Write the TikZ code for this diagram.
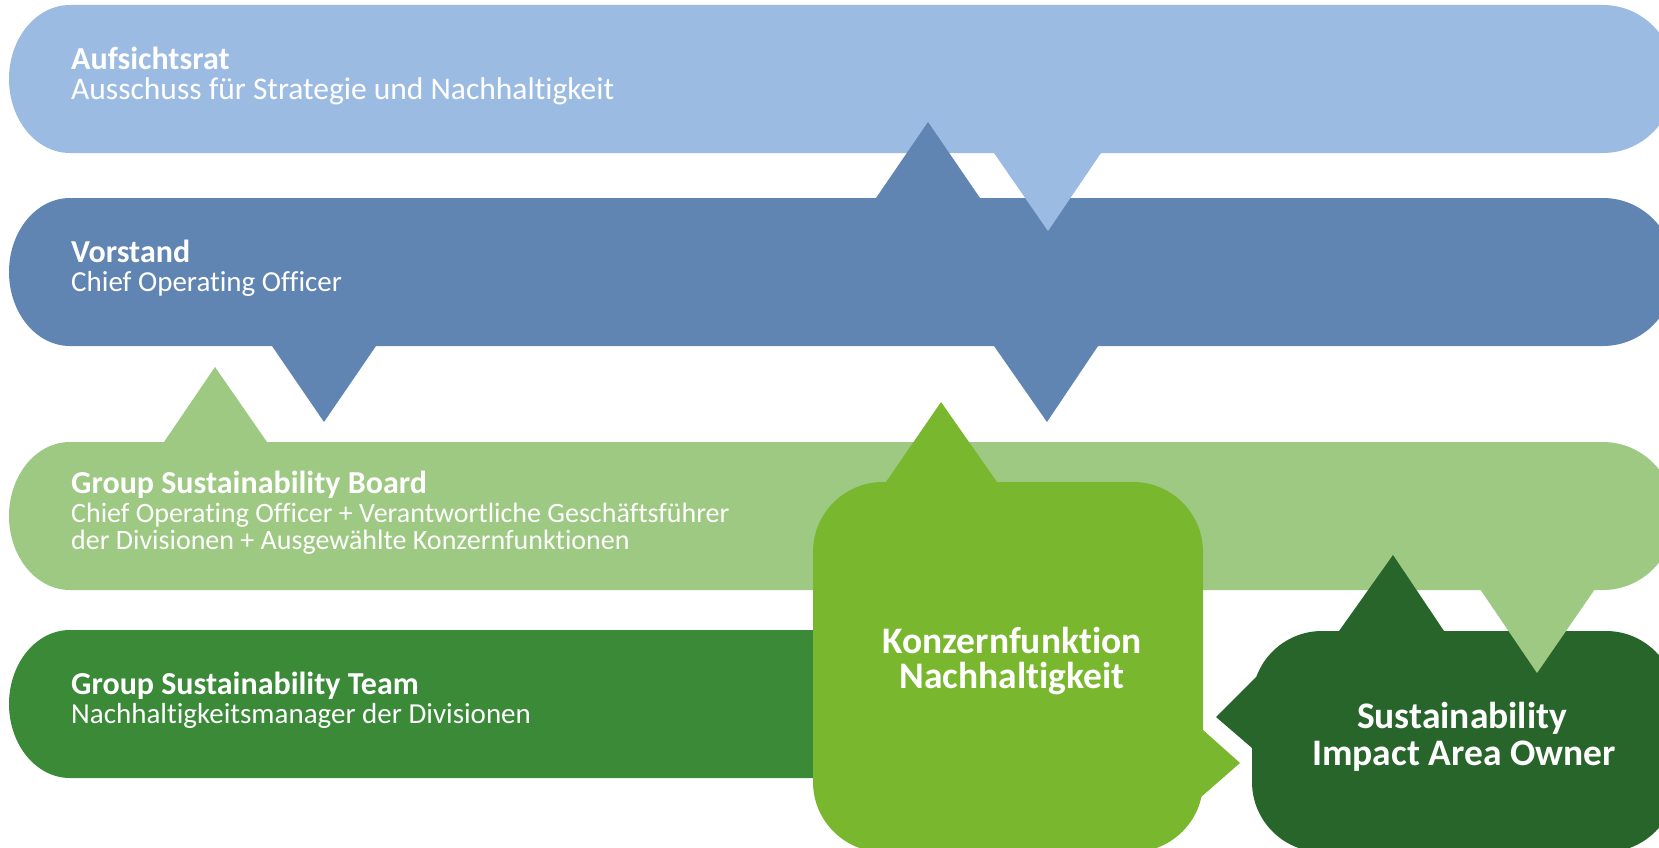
\documentclass[tikz,border=0pt]{standalone}
\usepackage{fontspec}
\setmainfont[Ligatures=NoCommon]{Carlito}
\definecolor{cAufsicht}{HTML}{9BBBE3}
\definecolor{cVorstand}{HTML}{6085B2}
\definecolor{cBoard}{HTML}{9DC983}
\definecolor{cTeam}{HTML}{3A8A38}
\definecolor{cKonz}{HTML}{79B72E}
\definecolor{cOwner}{HTML}{28652A}
\tikzset{
  bandtitle/.style={anchor=base west, inner sep=0pt, text=white, font=\fontsize{32}{32}\selectfont\bfseries},
  bandsub/.style={anchor=base west, inner sep=0pt, text=white, font=\fontsize{#1}{30}\selectfont},
  bandsub/.default=28,
  boxtitle/.style={anchor=base, inner sep=0pt, text=white, font=\fontsize{37.5}{38}\selectfont\bfseries},
}
\begin{document}
\begin{tikzpicture}[x=1pt,y=-1pt]
\useasboundingbox (0,0) rectangle (1659,848);
\clip (0,0) rectangle (1659,848);
% band bodies
\fill[cAufsicht] (70,5) -- (1603,5) arc[start angle=-90,end angle=90,x radius=72,y radius=74] -- (70,153) arc[start angle=90,end angle=270,x radius=61,y radius=74] -- cycle;
\fill[cVorstand] (70,198) -- (1603,198) arc[start angle=-90,end angle=90,x radius=72,y radius=74] -- (70,346) arc[start angle=90,end angle=270,x radius=61,y radius=74] -- cycle;
\fill[cBoard] (70,442) -- (1603,442) arc[start angle=-90,end angle=90,x radius=72,y radius=74] -- (70,590) arc[start angle=90,end angle=270,x radius=61,y radius=74] -- cycle;
\fill[cTeam] (70,630) -- (900,630) -- (900,778) -- (70,778) arc[start angle=90,end angle=270,x radius=61,y radius=74] -- cycle;
% boxes
\fill[cKonz, rounded corners=70pt] (813,482) rectangle (1203,852);
\fill[cOwner, rounded corners=70pt] (1252,631) rectangle (1676,852);
% tails
\fill[cAufsicht] (994,145) -- (1101,145) -- (1101,153) -- (1048,231) -- (994,153) -- cycle;
\fill[cVorstand] (876,206) -- (876,198) -- (928,122) -- (980,198) -- (980,206) -- cycle;
\fill[cVorstand] (272,338) -- (376,338) -- (376,346) -- (324,422) -- (272,346) -- cycle;
\fill[cVorstand] (994,338) -- (1098,338) -- (1098,346) -- (1047,422) -- (994,346) -- cycle;
\fill[cBoard] (164,450) -- (164,442) -- (215,367) -- (267,442) -- (267,450) -- cycle;
\fill[cKonz] (886,492) -- (886,482) -- (941,402) -- (997,482) -- (997,492) -- cycle;
\fill[cKonz] (1190,730) -- (1203,730) -- (1240,763) -- (1201,797) -- (1190,797) -- cycle;
\fill[cOwner] (1339,641) -- (1339,631) -- (1393,555) -- (1444,631) -- (1444,641) -- cycle;
\fill[cBoard] (1480,580) -- (1595,580) -- (1595,589) -- (1537,673) -- (1480,589) -- cycle;
\fill[cOwner] (1270,677) -- (1256,677) -- (1216,717) -- (1252,748) -- (1270,748) -- cycle;
% texts
\node[bandtitle] (aufT) at (71,70) {Aufsichtsrat};
\node[bandsub=31.5] (aufS) at (71,100) {Ausschuss für Strategie und Nachhaltigkeit};
\node[bandtitle] (vorT) at (71,262) {Vorstand};
\node[bandsub=29] (vorS) at (71,291) {Chief Operating Officer};
\node[bandtitle] (gsbT) at (71,493) {Group Sustainability Board};
\node[bandsub=28] (gsbS1) at (71,522) {Chief Operating Officer + Verantwortliche Geschäftsführer};
\node[bandsub=28] (gsbS2) at (71,549) {der Divisionen + Ausgewählte Konzernfunktionen};
\node[bandtitle] (gstT) at (71,694) {Group Sustainability Team};
\node[bandsub=29] (gstS) at (71,723) {Nachhaltigkeitsmanager der Divisionen};
\node[boxtitle] (konz1) at (1012,653) {Konzernfunktion};
\node[boxtitle] (konz2) at (1012,688) {Nachhaltigkeit};
\node[boxtitle] (own1) at (1462,728) {Sustainability};
\node[boxtitle] (own2) at (1464,765) {Impact Area Owner};
\end{tikzpicture}
\end{document}
